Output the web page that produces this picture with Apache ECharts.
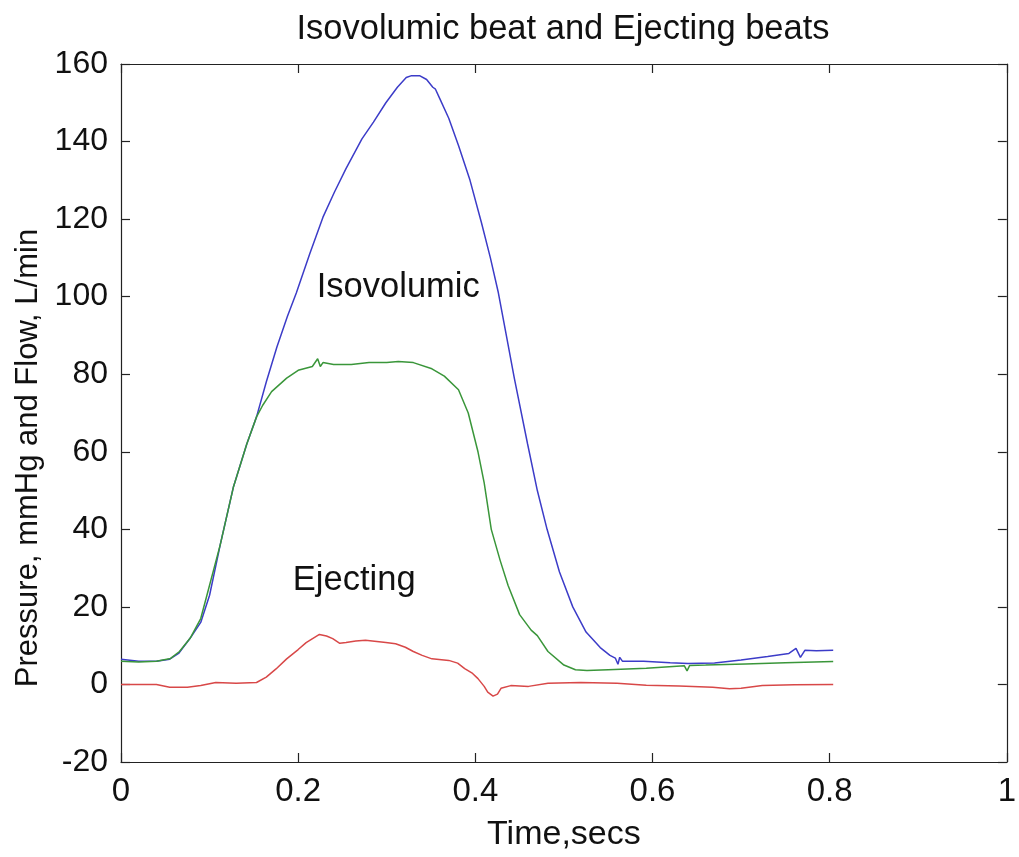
<!DOCTYPE html>
<html lang="en">
<head>
<meta charset="UTF-8">
<title>Isovolumic beat and Ejecting beats</title>
<style>
  html, body { margin: 0; padding: 0; background: #fff; overflow: hidden; }
  #chart { width: 1019px; height: 857px; }
</style>
</head>
<body>
<div id="chart"></div>
<script src="https://cdn.jsdelivr.net/npm/echarts@6/dist/echarts.min.js"></script>
<script>
// Isovolumic beat pressure (blue)
var isoTime = [0, 0.02, 0.04, 0.055, 0.065, 0.078, 0.09, 0.1, 0.112, 0.127, 0.142, 0.153, 0.164, 0.176, 0.188, 0.198,
  0.213, 0.228, 0.241, 0.254, 0.272, 0.285, 0.299, 0.312, 0.322, 0.328, 0.337, 0.345, 0.352, 0.355, 0.36, 0.37,
  0.381, 0.394, 0.407, 0.417, 0.426, 0.435, 0.444, 0.459, 0.47, 0.481, 0.495, 0.51, 0.525, 0.541, 0.552, 0.558,
  0.561, 0.563, 0.566, 0.59, 0.62, 0.64, 0.67, 0.7, 0.73, 0.754, 0.762, 0.767, 0.772, 0.785, 0.804];
var isoPressure = [6.5, 6, 6, 6.5, 8, 11.9, 16, 23, 36, 51, 62, 69, 78, 87, 95, 101,
  111, 120.5, 127, 133, 140.7, 145, 150, 154, 156.5, 157, 157, 156, 154, 153.5, 151, 146,
  139, 130, 119, 110, 101, 90, 79, 62, 50, 40, 29, 20, 13.5, 9.5, 7.5, 6.8,
  5.2, 7, 6, 6, 5.6, 5.4, 5.5, 6.3, 7.2, 8, 9.3, 7, 8.8, 8.7, 8.8];

// Ejecting beat pressure (green)
var ejTime = [0, 0.02, 0.04, 0.056, 0.066, 0.078, 0.09, 0.097, 0.112, 0.127, 0.142, 0.153, 0.16, 0.17, 0.187, 0.2,
  0.216, 0.222, 0.225, 0.228, 0.24, 0.26, 0.28, 0.3, 0.313, 0.33, 0.351, 0.365, 0.381, 0.392, 0.403, 0.41,
  0.418, 0.428, 0.437, 0.45, 0.463, 0.47, 0.482, 0.5, 0.513, 0.526, 0.55, 0.593, 0.636, 0.639, 0.642, 0.66,
  0.705, 0.75, 0.804];
var ejPressure = [6, 5.8, 6, 6.7, 8.5, 11.9, 17, 23, 36, 51, 62, 69, 72, 75.5, 79, 81,
  82, 84, 82, 83, 82.5, 82.5, 83, 83, 83.3, 83, 81.4, 79.5, 76, 70, 60, 52,
  40, 32, 25.5, 18, 14, 12.6, 8.5, 5, 3.8, 3.6, 3.8, 4.2, 4.8, 3.5, 4.9, 5,
  5.3, 5.6, 5.9];

// Ejecting beat flow (red)
var flowTime = [0, 0.02, 0.04, 0.055, 0.075, 0.09, 0.107, 0.13, 0.153, 0.164, 0.175, 0.187, 0.2, 0.209, 0.224, 0.232,
  0.239, 0.247, 0.254, 0.265, 0.276, 0.299, 0.31, 0.321, 0.33, 0.34, 0.351, 0.37, 0.38, 0.388, 0.396, 0.403,
  0.41, 0.414, 0.42, 0.425, 0.429, 0.44, 0.46, 0.482, 0.519, 0.56, 0.593, 0.63, 0.668, 0.687, 0.7, 0.724,
  0.76, 0.804];
var flowValue = [0, 0, 0, -0.7, -0.7, -0.3, 0.5, 0.3, 0.5, 1.9, 4, 6.6, 9, 10.8, 12.9, 12.5,
  11.8, 10.6, 10.8, 11.2, 11.4, 10.8, 10.5, 9.6, 8.5, 7.5, 6.6, 6.2, 5.5, 4.1, 3, 1.5,
  -0.5, -2, -3, -2.5, -1, -0.3, -0.5, 0.3, 0.5, 0.3, -0.2, -0.4, -0.7, -1.1, -1, -0.3,
  -0.1, 0];

// text annotations placed in data coordinates
var noteText = ['Isovolumic', 'Ejecting'];
var notePos = [[0.221, 102.3], [0.194, 26.8]];

function pairs(xs, ys) {
  var out = [];
  for (var i = 0; i < xs.length; i++) out.push([xs[i], ys[i]]);
  return out;
}

var font = 'Liberation Sans, Arial, sans-serif';
var axisLine = { show: true, onZero: false, lineStyle: { color: '#222', width: 1.2 } };
var tick = { show: true, inside: true, length: 9, lineStyle: { color: '#222', width: 1.2 } };

var chart = echarts.init(document.getElementById('chart'));
var option = {
  animation: false,
  backgroundColor: '#fff',
  title: {
    text: 'Isovolumic beat and Ejecting beats',
    left: 558, textAlign: 'center', top: 7,
    textStyle: { fontFamily: font, fontSize: 34.5, fontWeight: 'normal', color: '#111' }
  },
  grid: { left: 121, right: 7, top: 64, bottom: 90 },
  xAxis: [{
    type: 'value', min: 0, max: 1, interval: 0.2,
    name: 'Time,secs', nameLocation: 'middle', nameGap: 56,
    nameTextStyle: { fontFamily: font, fontSize: 34, color: '#111' },
    axisLine: axisLine, axisTick: tick, splitLine: { show: false },
    axisLabel: { fontFamily: font, fontSize: 33, color: '#111', margin: 13 }
  }, {
    type: 'value', position: 'top', min: 0, max: 1, interval: 0.2,
    axisLine: axisLine, axisTick: tick, splitLine: { show: false },
    axisLabel: { show: false }
  }],
  yAxis: [{
    type: 'value', min: -20, max: 160, interval: 20,
    name: 'Pressure, mmHg and Flow, L/min', nameLocation: 'middle', nameGap: 77,
    nameTextStyle: { fontFamily: font, fontSize: 31, color: '#111', padding: [0, 90, 0, 0] },
    axisLine: axisLine, axisTick: tick, splitLine: { show: false },
    axisLabel: { fontFamily: font, fontSize: 32, color: '#111', margin: 13 }
  }, {
    type: 'value', position: 'right', min: -20, max: 160, interval: 20,
    axisLine: axisLine, axisTick: tick, splitLine: { show: false },
    axisLabel: { show: false }
  }],
  series: [{
    name: 'Isovolumic', type: 'line', showSymbol: false,
    data: pairs(isoTime, isoPressure),
    lineStyle: { color: '#3c3cc8', width: 1.5 }
  }, {
    name: 'Ejecting', type: 'line', showSymbol: false,
    data: pairs(ejTime, ejPressure),
    lineStyle: { color: '#3a963a', width: 1.5 }
  }, {
    name: 'Flow', type: 'line', showSymbol: false,
    data: pairs(flowTime, flowValue),
    lineStyle: { color: '#d84848', width: 1.5 }
  }, {
    type: 'scatter', symbolSize: 0, silent: true,
    data: notePos.map(function (p, i) { return { value: p, name: noteText[i] }; }),
    itemStyle: { opacity: 1 },
    label: {
      show: true, position: 'right', distance: 0,
      formatter: function (p) { return p.name; },
      fontFamily: font, fontSize: 34.5, color: '#111', opacity: 1
    }
  }]
};
chart.setOption(option);
</script>
</body>
</html>
